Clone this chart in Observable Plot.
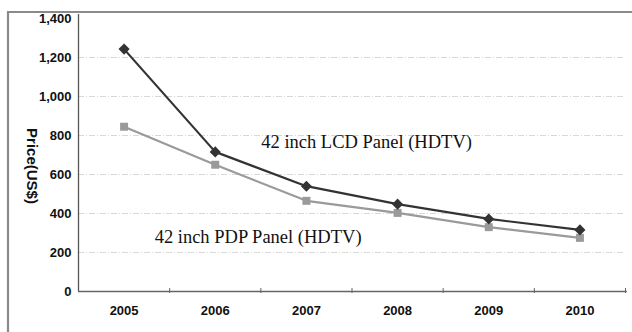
<!DOCTYPE html>
<html>
<head>
<meta charset="utf-8">
<script src="https://cdn.jsdelivr.net/npm/d3@7"></script>
<script src="https://cdn.jsdelivr.net/npm/@observablehq/plot@0.6"></script>
<style>
  html, body { margin: 0; padding: 0; background: #fff; overflow: hidden; }
  svg { display: block; overflow: hidden !important; }
</style>
</head>
<body>
<div id="chart"></div>
<script>
const years = [2005, 2006, 2007, 2008, 2009, 2010];
const lcd = [1243, 716, 540, 448, 372, 316];
const pdp = [845, 650, 465, 403, 330, 275];
const yTicks = [0, 200, 400, 600, 800, 1000, 1200, 1400];
const gridTicks = [200, 400, 600, 800, 1000, 1200];
const boundaries = [2005.5, 2006.5, 2007.5, 2008.5, 2009.5, 2010.5];
const lcdLabel = "42 inch LCD Panel (HDTV)";
const pdpLabel = "42 inch PDP Panel (HDTV)";
const yLabel = "Price(US$)";

const lcdData = years.map((y, i) => ({year: y, value: lcd[i]}));
const pdpData = years.map((y, i) => ({year: y, value: pdp[i]}));

const sans = "'Liberation Sans', Arial, sans-serif";
const serif = "'Liberation Serif', 'Times New Roman', serif";

const plot = Plot.plot({
  width: 632,
  height: 332,
  marginLeft: 78,
  marginRight: 7,
  marginTop: 18,
  marginBottom: 41,
  style: {background: "#fff", fontFamily: sans},
  x: {domain: [2004.5, 2010.5], axis: null},
  y: {domain: [0, 1400], axis: null},
  marks: [
    Plot.ruleY(gridTicks, {stroke: "#d8d8d8", strokeWidth: 1, strokeDasharray: "6,2,1,2"}),
    Plot.ruleX([2004.5], {y1: 0, y2: 1420, stroke: "#555", strokeWidth: 1.3}),
    Plot.ruleY([0], {x1: 2004.5, x2: 2010.52, stroke: "#666", strokeWidth: 1.3}),
    Plot.ruleX(boundaries, {y1: 0, y2: 0, insetTop: -3, insetBottom: -2, stroke: "#666", strokeWidth: 1}),
    Plot.text(yTicks, {x: 2004.5, y: d => d, text: d => d3.format(",")(d), textAnchor: "end", dx: -7, fontSize: 13, fill: "#111", fontWeight: "bold", style: {letterSpacing: "-0.6px"}}),
    Plot.text(years, {x: d => d, y: 0, text: d => String(d), dy: 19, fontSize: 13, fill: "#111", fontWeight: "bold", style: {letterSpacing: "-0.6px"}}),
    Plot.text([yLabel], {frameAnchor: "left", textAnchor: "middle", dx: -47, dy: 11, rotate: 90, fontSize: 15, fontWeight: "bold", fill: "#111"}),
    Plot.line(pdpData, {x: "year", y: "value", stroke: "#9a9a9a", strokeWidth: 2.2}),
    Plot.dot(pdpData, {x: "year", y: "value", symbol: "square", r: 4.5, fill: "#9a9a9a", stroke: "none"}),
    Plot.line(lcdData, {x: "year", y: "value", stroke: "#333", strokeWidth: 2.2}),
    Plot.dot(lcdData, {x: "year", y: "value", symbol: "diamond2", r: 5, fill: "#333", stroke: "none"}),
    Plot.text([lcdLabel], {x: 2007.66, y: 764, text: d => d, fontFamily: serif, fontSize: 18.5, fill: "#111"}),
    Plot.text([pdpLabel], {x: 2006.47, y: 277, text: d => d, fontFamily: serif, fontSize: 18.5, fill: "#111"})
  ]
});

// outer frame: only top and left edges are visible in the picture
d3.select(plot).append("path")
  .attr("d", "M8,340 L8,12 L640,12")
  .attr("fill", "none").attr("stroke", "#8a8a8a").attr("stroke-width", 2.2);

document.getElementById("chart").appendChild(plot);
</script>
</body>
</html>
